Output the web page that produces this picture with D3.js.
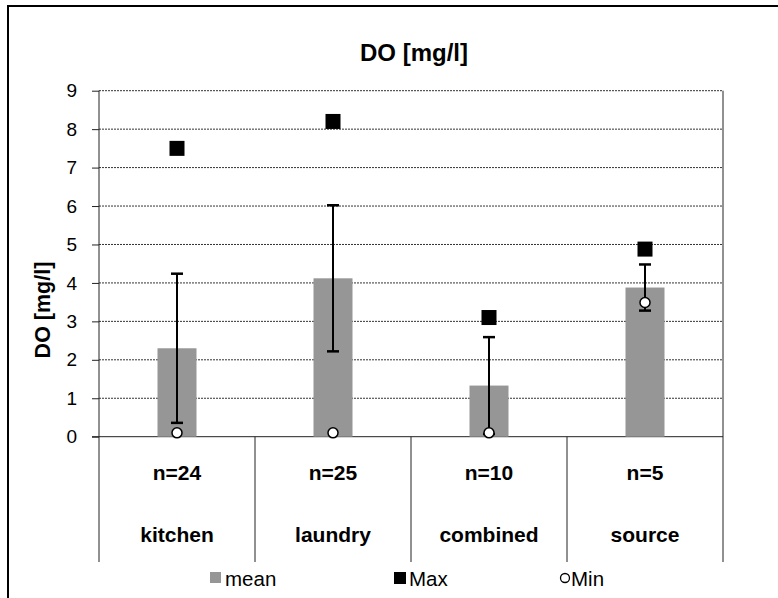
<!DOCTYPE html>
<html>
<head>
<meta charset="utf-8">
<script src="https://cdn.jsdelivr.net/npm/d3@7"></script>
<style>
  html, body { margin: 0; padding: 0; background: #fff; }
  svg { display: block; font-family: "Liberation Sans", Arial, sans-serif; }
</style>
</head>
<body>
<svg id="chart" width="778" height="598"></svg>
<script>
// Dissolved oxygen per wastewater source
const categories = ["kitchen", "laundry", "combined", "source"];
const sampleCounts = ["n=24", "n=25", "n=10", "n=5"];
const meanValues = [2.30, 4.12, 1.33, 3.88];
const sdValues = [1.94, 1.90, 1.26, 0.60];
const maxValues = [7.5, 8.2, 3.1, 4.88];
const minValues = [0.1, 0.1, 0.1, 3.49];
const yTicks = [0, 1, 2, 3, 4, 5, 6, 7, 8, 9];
const legendLabels = ["mean", "Max", "Min"];

const svg = d3.select("#chart");
const plot = { left: 99, right: 723, top: 90.7, bottom: 436.7, catBottom: 562 };

const x = d3.scaleBand()
  .domain(categories)
  .range([plot.left, plot.right])
  .paddingInner(0)
  .paddingOuter(0);

const y = d3.scaleLinear()
  .domain([0, 9])
  .range([plot.bottom, plot.top]);

// outer chart frame
svg.append("rect")
  .attr("x", 8).attr("y", 6)
  .attr("width", 820).attr("height", 640)
  .attr("fill", "none").attr("stroke", "#000").attr("stroke-width", 2);

// title
svg.append("text")
  .attr("x", (plot.left + plot.right) / 2 + 3).attr("y", 61)
  .attr("text-anchor", "middle")
  .attr("font-size", 24).attr("font-weight", "bold")
  .text("DO [mg/l]");

// horizontal gridlines
svg.append("g").selectAll("line")
  .data(yTicks.filter(d => d > 0))
  .join("line")
  .attr("x1", plot.left).attr("x2", plot.right)
  .attr("y1", d => y(d)).attr("y2", d => y(d))
  .attr("stroke", "#333").attr("stroke-width", 1)
  .attr("stroke-dasharray", "2,1");

// y axis
const yAxis = d3.axisLeft(y).tickValues(yTicks).tickSize(7).tickPadding(15)
  .tickFormat(d3.format("d"));
const gy = svg.append("g").attr("transform", `translate(${plot.left},0)`).call(yAxis);
gy.select(".domain").remove();
gy.selectAll(".tick line").attr("stroke", "#222");
gy.selectAll(".tick text").attr("font-size", 19).attr("fill", "#000")
  .attr("font-family", "Liberation Sans, Arial, sans-serif");
svg.append("line")
  .attr("x1", plot.left).attr("x2", plot.left)
  .attr("y1", plot.top).attr("y2", plot.catBottom)
  .attr("stroke", "#222");

// y axis title
svg.append("text")
  .attr("transform", `translate(50,310) rotate(-90)`)
  .attr("text-anchor", "middle")
  .attr("font-size", 21.5).attr("font-weight", "bold")
  .text("DO [mg/l]");

// right border of the plot area
svg.append("line")
  .attr("x1", plot.right).attr("x2", plot.right)
  .attr("y1", plot.top).attr("y2", plot.catBottom)
  .attr("stroke", "#222");

// category axis with separators
svg.append("line")
  .attr("x1", plot.left - 7).attr("x2", plot.right)
  .attr("y1", plot.bottom).attr("y2", plot.bottom)
  .attr("stroke", "#222");
svg.append("g").selectAll("line")
  .data(categories.slice(1))
  .join("line")
  .attr("x1", d => x(d)).attr("x2", d => x(d))
  .attr("y1", plot.bottom).attr("y2", plot.catBottom)
  .attr("stroke", "#222");

const cx = d => x(d) + x.bandwidth() / 2;

svg.append("g").selectAll("text")
  .data(categories)
  .join("text")
  .attr("x", cx).attr("y", 480)
  .attr("text-anchor", "middle")
  .attr("font-size", 21).attr("font-weight", "bold")
  .text((d, i) => sampleCounts[i]);

svg.append("g").selectAll("text")
  .data(categories)
  .join("text")
  .attr("x", cx).attr("y", 542)
  .attr("text-anchor", "middle")
  .attr("font-size", 21).attr("font-weight", "bold")
  .text(d => d);

// mean bars
const barW = x.bandwidth() * 0.25;
svg.append("g").selectAll("rect")
  .data(categories)
  .join("rect")
  .attr("x", d => cx(d) - barW / 2)
  .attr("width", barW)
  .attr("y", (d, i) => y(meanValues[i]))
  .attr("height", (d, i) => y(0) - y(meanValues[i]))
  .attr("fill", "#969696");

// error bars (mean ± sd)
const eb = svg.append("g").attr("stroke", "#000").attr("stroke-width", 2);
categories.forEach((c, i) => {
  const hi = meanValues[i] + sdValues[i];
  const lo = meanValues[i] - sdValues[i];
  eb.append("line").attr("x1", cx(c)).attr("x2", cx(c)).attr("y1", y(hi)).attr("y2", y(lo));
  eb.append("line").attr("x1", cx(c) - 6).attr("x2", cx(c) + 6).attr("y1", y(hi)).attr("y2", y(hi)).attr("stroke-width", 2.5);
  eb.append("line").attr("x1", cx(c) - 6).attr("x2", cx(c) + 6).attr("y1", y(lo)).attr("y2", y(lo)).attr("stroke-width", 2.5);
});

// maximum markers
const sq = 15;
svg.append("g").selectAll("rect")
  .data(categories)
  .join("rect")
  .attr("x", d => cx(d) - sq / 2)
  .attr("y", (d, i) => y(maxValues[i]) - sq / 2)
  .attr("width", sq).attr("height", sq)
  .attr("fill", "#000");

// minimum markers
svg.append("g").selectAll("circle")
  .data(categories)
  .join("circle")
  .attr("cx", cx)
  .attr("cy", (d, i) => y(minValues[i]))
  .attr("r", 5)
  .attr("fill", "#fff").attr("stroke", "#000").attr("stroke-width", 1.5);

// legend
const lg = svg.append("g").attr("font-size", 20.5);
lg.append("rect").attr("x", 210).attr("y", 572).attr("width", 11).attr("height", 11).attr("fill", "#969696");
lg.append("text").attr("x", 225).attr("y", 586).text(legendLabels[0]);
lg.append("rect").attr("x", 394).attr("y", 572).attr("width", 12).attr("height", 12).attr("fill", "#000");
lg.append("text").attr("x", 409).attr("y", 586).text(legendLabels[1]);
lg.append("circle").attr("cx", 565).attr("cy", 578).attr("r", 4.5)
  .attr("fill", "#fff").attr("stroke", "#000").attr("stroke-width", 1.3);
lg.append("text").attr("x", 571).attr("y", 586).text(legendLabels[2]);
</script>
</body>
</html>
